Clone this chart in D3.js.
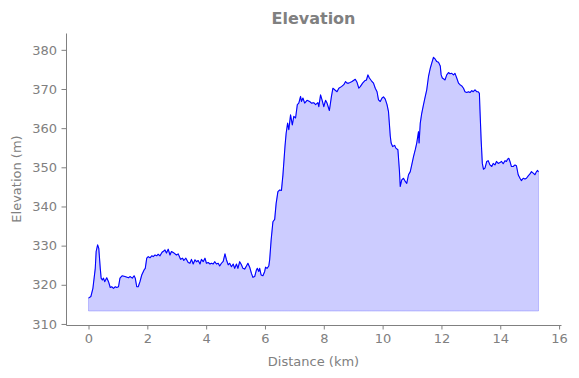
<!DOCTYPE html>
<html>
<head>
<meta charset="utf-8">
<script src="https://cdn.jsdelivr.net/npm/d3@7"></script>
<style>
  body { margin: 0; background: #fff; }
  text { font-family: "DejaVu Sans", sans-serif; }
</style>
</head>
<body>
<svg id="chart" width="579" height="378"></svg>
<script>
// distance along track (km)
const distance = [
  0.00, 0.08, 0.15, 0.23, 0.26, 0.31, 0.35, 0.40, 0.43, 0.47, 0.51, 0.55, 0.62, 0.68, 0.74, 0.79,
  0.85, 0.91, 0.96, 1.02, 1.07, 1.14, 1.24, 1.36, 1.41, 1.49, 1.55, 1.59, 1.64, 1.69, 1.75, 1.81,
  1.89, 1.93, 1.98, 2.03, 2.09, 2.15, 2.20, 2.26, 2.32, 2.37, 2.43, 2.50, 2.57, 2.60, 2.65, 2.71,
  2.77, 2.82, 2.91, 2.99, 3.05, 3.13, 3.20, 3.24, 3.31, 3.39, 3.45, 3.50, 3.56, 3.62, 3.67, 3.73,
  3.79, 3.84, 3.90, 3.96, 4.01, 4.07, 4.13, 4.18, 4.24, 4.29, 4.35, 4.41, 4.46, 4.52, 4.58, 4.64,
  4.69, 4.75, 4.80, 4.86, 4.92, 4.97, 5.03, 5.08, 5.14, 5.20, 5.25, 5.31, 5.37, 5.42, 5.48, 5.54,
  5.59, 5.65, 5.71, 5.74, 5.79, 5.82, 5.87, 5.93, 5.99, 6.02, 6.07, 6.13, 6.16, 6.21, 6.27, 6.33,
  6.38, 6.44, 6.50, 6.56, 6.61, 6.68, 6.72, 6.77, 6.81, 6.87, 6.93, 6.98, 7.04, 7.10, 7.15, 7.21,
  7.24, 7.29, 7.35, 7.43, 7.52, 7.58, 7.66, 7.72, 7.80, 7.83, 7.89, 7.94, 8.00, 8.06, 8.11, 8.19,
  8.26, 8.31, 8.37, 8.45, 8.51, 8.60, 8.68, 8.74, 8.79, 8.85, 8.96, 9.07, 9.13, 9.19, 9.24, 9.32,
  9.39, 9.45, 9.50, 9.55, 9.62, 9.69, 9.75, 9.81, 9.86, 9.92, 9.98, 10.03, 10.09, 10.15, 10.20, 10.26,
  10.29, 10.34, 10.41, 10.45, 10.52, 10.57, 10.60, 10.65, 10.71, 10.77, 10.82, 10.88, 10.94, 10.99, 11.05, 11.11,
  11.16, 11.22, 11.24, 11.28, 11.33, 11.39, 11.45, 11.50, 11.56, 11.62, 11.67, 11.73, 11.79, 11.84, 11.90, 11.96,
  11.99, 12.03, 12.09, 12.12, 12.18, 12.24, 12.29, 12.35, 12.41, 12.46, 12.52, 12.58, 12.63, 12.69, 12.75, 12.80,
  12.86, 12.92, 12.97, 13.03, 13.08, 13.14, 13.20, 13.25, 13.29, 13.31, 13.35, 13.39, 13.43, 13.48, 13.54, 13.59,
  13.65, 13.71, 13.76, 13.82, 13.87, 13.93, 13.99, 14.04, 14.10, 14.16, 14.21, 14.25, 14.29, 14.33, 14.38, 14.44,
  14.50, 14.55, 14.61, 14.67, 14.72, 14.78, 14.84, 14.89, 14.95, 15.01, 15.06, 15.12, 15.18, 15.23, 15.27, 15.30
];

// elevation (m)
const elevation = [
  316.6, 317.0, 319.1, 324.2, 328.5, 330.2, 329.3, 324.2, 321.7, 321.2, 321.7, 320.8, 321.8, 320.8, 319.3, 319.5,
  319.1, 319.5, 319.3, 319.5, 321.7, 322.3, 322.1, 321.8, 322.1, 321.7, 322.3, 321.7, 319.5, 319.5, 320.8, 322.5,
  323.8, 324.2, 326.8, 327.2, 326.9, 327.4, 327.2, 327.6, 327.4, 327.8, 327.4, 328.3, 328.7, 328.9, 328.1, 329.1,
  327.6, 328.5, 328.1, 327.6, 327.9, 326.5, 326.8, 326.2, 326.8, 325.7, 325.5, 326.5, 325.3, 326.4, 325.9, 326.2,
  325.3, 326.5, 325.9, 326.8, 325.5, 325.7, 325.3, 325.5, 325.3, 325.9, 325.3, 325.5, 324.8, 325.5, 326.0, 327.9,
  326.4, 325.1, 325.5, 324.6, 325.3, 324.2, 325.3, 324.2, 325.9, 325.1, 324.2, 324.0, 324.8, 325.5, 324.5, 322.9,
  321.9, 322.1, 323.8, 324.2, 323.4, 324.2, 322.5, 322.3, 323.4, 324.5, 324.2, 324.8, 326.4, 331.5, 336.1, 336.7,
  340.8, 343.8, 344.2, 344.1, 348.0, 355.3, 358.7, 361.3, 359.6, 363.4, 360.8, 363.0, 362.6, 366.0, 366.4, 368.1,
  366.8, 367.7, 366.4, 367.1, 366.8, 366.4, 366.5, 366.0, 366.5, 365.5, 368.5, 367.2, 365.5, 367.1, 366.4, 364.5,
  368.1, 370.2, 369.8, 369.3, 370.2, 370.6, 371.1, 371.9, 371.5, 371.5, 371.9, 372.5, 371.7, 370.2, 370.6, 371.5,
  372.1, 372.3, 373.6, 372.8, 372.1, 371.5, 370.2, 369.3, 367.2, 366.8, 367.7, 368.0, 367.4, 366.0, 364.2, 358.0,
  356.2, 355.3, 355.6, 354.9, 354.5, 349.3, 345.1, 346.8, 347.2, 346.4, 345.9, 348.1, 348.9, 350.6, 352.7, 354.5,
  356.2, 359.1, 356.2, 361.3, 363.8, 366.0, 368.1, 369.8, 373.2, 375.3, 376.6, 378.1, 377.6, 377.0, 376.8, 375.9,
  373.6, 372.8, 372.5, 372.3, 373.6, 374.2, 373.9, 374.0, 373.6, 374.0, 372.8, 371.5, 371.1, 370.8, 370.2, 369.3,
  369.1, 369.3, 369.1, 369.6, 369.3, 369.8, 369.3, 369.3, 368.9, 364.7, 357.0, 351.0, 349.5, 349.8, 351.5, 351.7,
  350.6, 350.2, 351.0, 350.6, 351.5, 351.0, 351.2, 351.5, 350.9, 351.7, 351.5, 352.1, 352.3, 351.5, 350.2, 350.2,
  350.6, 350.4, 348.1, 347.2, 346.6, 347.2, 347.0, 347.2, 347.8, 348.3, 348.9, 348.5, 348.1, 348.9, 349.2, 348.8
];

const baseElevation = 313.3;
const xTicks = [0, 2, 4, 6, 8, 10, 12, 14, 16];
const yTicks = [310, 320, 330, 340, 350, 360, 370, 380];

const grey = "#808080";
const svg = d3.select("#chart");
const plotLeft = 66, plotRight = 561, plotTop = 33, plotBottom = 325;

const x = d3.scaleLinear().domain([-0.765, 16.065]).range([plotLeft, plotRight]);
const y = d3.scaleLinear().domain([309.73, 384.3]).range([plotBottom, plotTop]);

const points = distance.map((d, i) => ({ d: d, e: elevation[i] }));

// filled area under the profile
const area = d3.area()
  .x(p => x(p.d))
  .y0(y(baseElevation))
  .y1(p => y(p.e));

svg.append("path")
  .datum(points)
  .attr("d", area)
  .attr("fill", "rgba(0,0,255,0.2)")
  .attr("stroke", "rgba(0,0,255,0.2)")
  .attr("stroke-width", 1);

const line = d3.line()
  .x(p => x(p.d))
  .y(p => y(p.e));

svg.append("path")
  .datum(points)
  .attr("d", line)
  .attr("fill", "none")
  .attr("stroke", "#0000ff")
  .attr("stroke-width", 1.1)
  .attr("stroke-linejoin", "round");

// axes
const xAxis = svg.append("g")
  .attr("transform", `translate(0,${plotBottom})`)
  .call(d3.axisBottom(x).tickValues(xTicks).tickSize(4.5).tickPadding(4.5).tickSizeOuter(0));

const yAxis = svg.append("g")
  .attr("transform", `translate(${plotLeft},0)`)
  .call(d3.axisLeft(y).tickValues(yTicks).tickSize(4.5).tickPadding(4.5).tickSizeOuter(0));

[xAxis, yAxis].forEach(g => {
  g.select(".domain").attr("stroke", grey).attr("stroke-width", 1);
  g.selectAll(".tick line").attr("stroke", grey).attr("stroke-width", 1);
  g.selectAll(".tick text")
    .attr("fill", grey)
    .style("font-size", "13px")
    .style("font-family", "'DejaVu Sans', sans-serif");
});

// title and labels
svg.append("text")
  .attr("x", (plotLeft + plotRight) / 2)
  .attr("y", 24)
  .attr("text-anchor", "middle")
  .attr("fill", grey)
  .style("font-size", "16px")
  .style("font-weight", "bold")
  .text("Elevation");

svg.append("text")
  .attr("x", (plotLeft + plotRight) / 2)
  .attr("y", 366)
  .attr("text-anchor", "middle")
  .attr("fill", grey)
  .style("font-size", "13px")
  .text("Distance (km)");

svg.append("text")
  .attr("transform", `translate(21,${(plotTop + plotBottom) / 2}) rotate(-90)`)
  .attr("text-anchor", "middle")
  .attr("fill", grey)
  .style("font-size", "13px")
  .text("Elevation (m)");
</script>
</body>
</html>
